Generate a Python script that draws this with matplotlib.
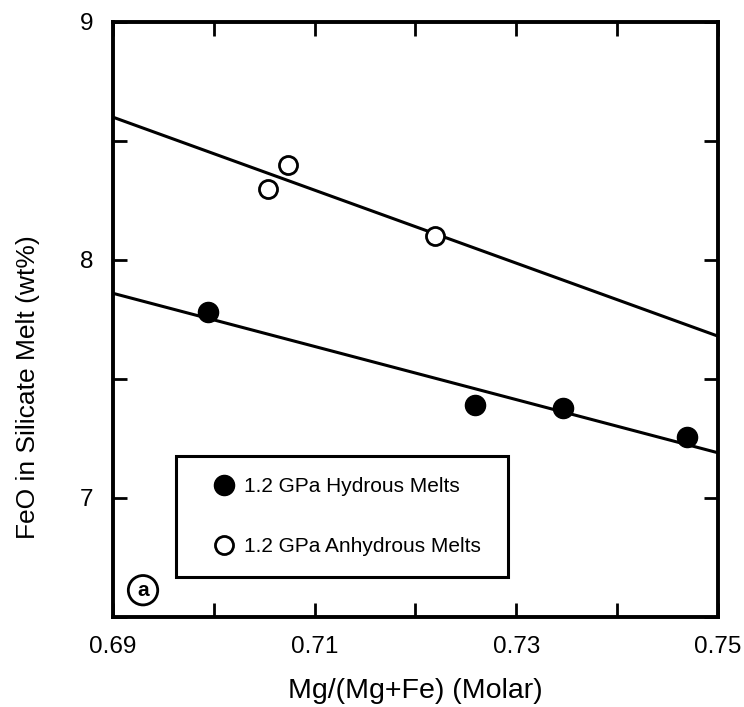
import numpy as np
from matplotlib import pyplot as plt

# data
hyd_x = [0.6994, 0.7259, 0.7346, 0.7469]
hyd_y = [7.78, 7.39, 7.38, 7.255]
anh_x = [0.7054, 0.7074, 0.7219]
anh_y = [8.30, 8.40, 8.10]

# fitted lines (end points at the axis limits)
line_x = [0.69, 0.75]
hyd_line_y = [7.86, 7.19]
anh_line_y = [8.60, 7.68]

x_ticks = [0.69, 0.71, 0.73, 0.75]
x_minor = [0.70, 0.72, 0.74]
y_ticks = [7, 8, 9]
y_minor = [6.5, 7.5, 8.5]

plt.rcParams['font.family'] = ['Liberation Sans', 'DejaVu Sans']

fig = plt.figure(figsize=(7.44, 7.07), dpi=100)
ax = fig.add_axes([0.1519, 0.1273, 0.8131, 0.8416])

ax.plot(line_x, anh_line_y, color='black', lw=2.2, zorder=2)
ax.plot(line_x, hyd_line_y, color='black', lw=2.2, zorder=2)
ax.plot(hyd_x, hyd_y, 'o', ms=14.5, mfc='black', mec='black', zorder=3,
        label='1.2 GPa Hydrous Melts')
ax.plot(anh_x, anh_y, 'o', ms=13, mfc='white', mec='black', mew=2,
        zorder=3, label='1.2 GPa Anhydrous Melts')

ax.set_xlim(0.69, 0.75)
ax.set_ylim(6.5, 9)
ax.set_xticks(x_ticks)
ax.set_xticklabels([f"{v:.2f}" for v in x_ticks])
ax.set_xticks(x_minor, minor=True)
ax.set_yticks(y_ticks)
ax.set_yticks(y_minor, minor=True)

for which in ('major', 'minor'):
    ax.tick_params(axis='both', which=which, direction='in', length=10,
                   width=2, top=True, right=True, labelsize=17.5)
ax.tick_params(axis='x', which='major', pad=14)
ax.tick_params(axis='y', which='major', pad=14)

for sp in ax.spines.values():
    sp.set_linewidth(2.8)

ax.set_xlabel('Mg/(Mg+Fe) (Molar)', fontsize=20.5)
ax.set_ylabel('FeO in Silicate Melt (wt%)', fontsize=19)
ax.xaxis.set_label_coords(0.5, -0.103)
ax.yaxis.set_label_coords(-0.12, 0.387)

leg = ax.legend(loc='upper left', bbox_to_anchor=(0.104, 0.0706, 0.549, 0.2),
                mode='expand', fontsize=15, frameon=True, fancybox=False,
                edgecolor='black', framealpha=1, borderpad=1.0,
                labelspacing=1.98, handletextpad=-0.35, handlelength=2.6,
                borderaxespad=0)
leg.get_frame().set_linewidth(2.2)

ax.text(0.0496, 0.045, 'a', transform=ax.transAxes, ha='center',
        va='center', fontsize=15, fontweight='bold',
        bbox=dict(boxstyle='circle,pad=0.25', fc='white', ec='black', lw=2))

fig.savefig('out.png', dpi=100)
